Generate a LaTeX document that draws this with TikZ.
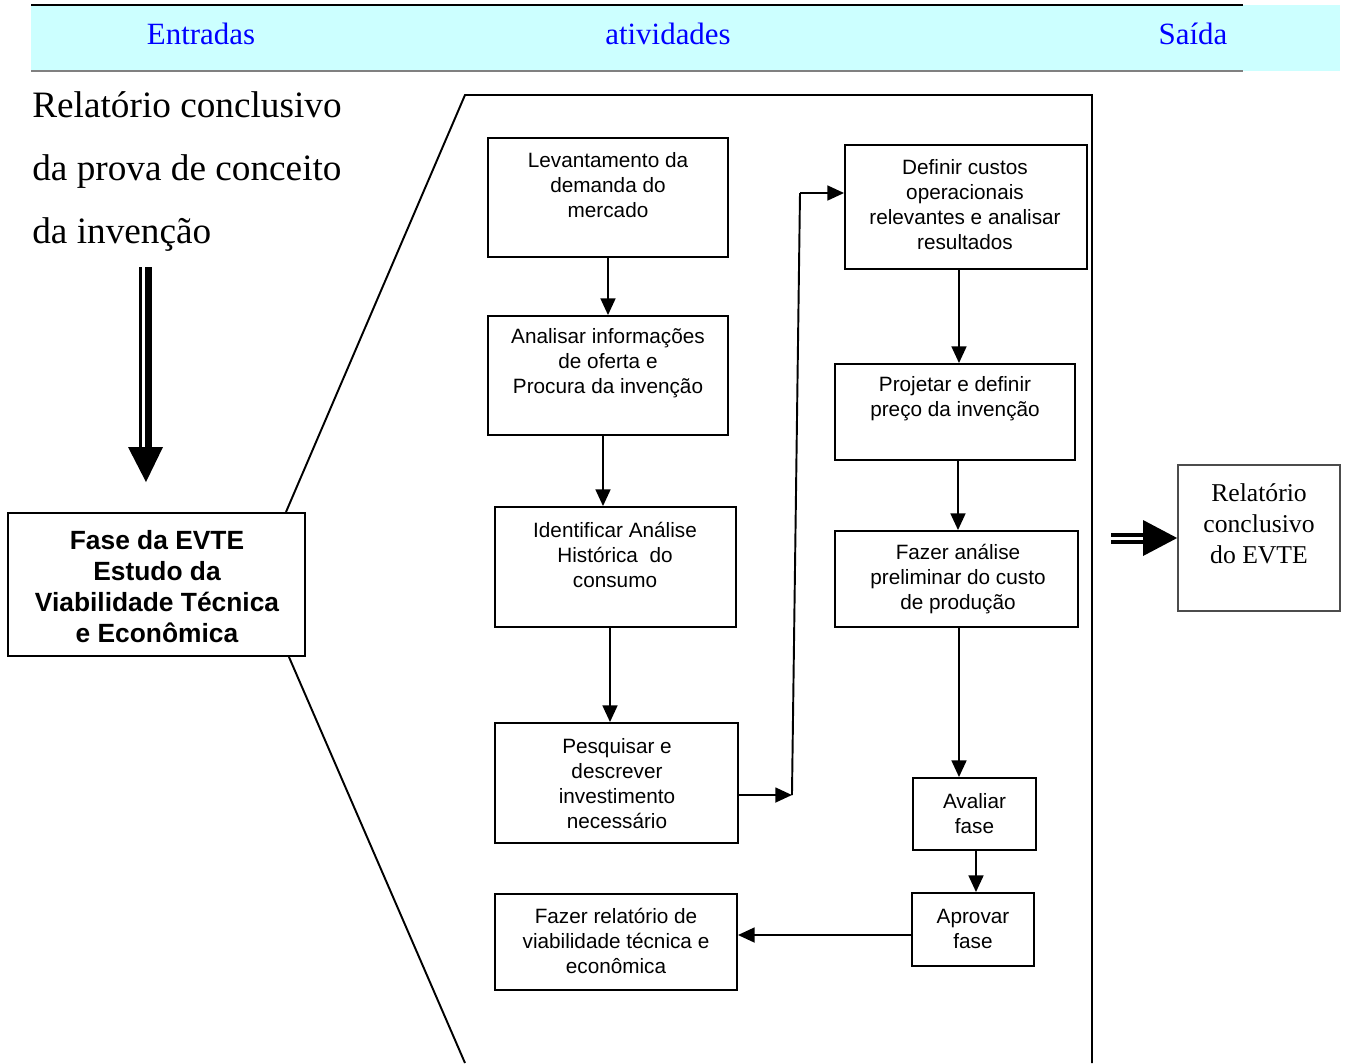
\documentclass[tikz,border=0pt]{standalone}
\usepackage{fontspec}
\setmainfont{Liberation Serif}
\setsansfont{Liberation Sans}
\usetikzlibrary{arrows.meta,calc,fit}
\definecolor{band}{HTML}{CCFFFF}
\begin{document}
\begin{tikzpicture}[x=0.02cm,y=-0.02cm,
  stepbox/.style={draw, line width=1.1pt, inner sep=0pt},
  steptext/.style={font=\sffamily\fontsize{11.8}{14.2}\selectfont, align=center, inner sep=0pt},
  flow/.style={line width=1.1pt},
  arr/.style={flow, -{Triangle[length=9.5pt,width=8.5pt]}},
  bracket/.style={line width=1.1pt},
  head/.style={font=\fontsize{17.6}{20}\selectfont, text=blue, inner sep=0pt},
]
\useasboundingbox (0,0) rectangle (1345,1063);

% header band with column titles
\fill[band] (31,5) rectangle (1340,71);
\draw[line width=1pt] (31,5) -- (1243,5);
\draw[line width=1pt, gray] (31,71) -- (1243,71);
\node[head] (hin)  at (201,34) {Entradas};
\node[head] (hact) at (668,34) {atividades};
\node[head] (hout) at (1193,34) {Saída};

% input text and the phase box
\node[anchor=north west, align=left, inner sep=0pt,
      font=\fontsize{21.2}{36}\selectfont] (input) at (32,91)
  {Relatório conclusivo\\da prova de conceito\\da invenção};
\node[stepbox, fit={(8,513) (305,656)}] (fase) {};
\node[font=\sffamily\bfseries\fontsize{15}{17.6}\selectfont, align=center, inner sep=0pt]
  (fase-t) at (157,586.5) {Fase da EVTE\\Estudo da\\Viabilidade Técnica\\e Econômica};

% double-line arrow from input to phase
\fill (139,267) rectangle (142,447);
\fill (145,267) rectangle (152,447);
\fill (128,447) -- (163,447) -- (146,482) -- cycle;

% activity boxes, left column
\node[stepbox, fit={(488,138) (728,257)}] (lev) {};
\node[steptext] (lev-t) at (608,185) {Levantamento da\\demanda do\\mercado};
\node[stepbox, fit={(488,316) (728,435)}] (an) {};
\node[steptext] (an-t) at (608,363) {Analisar informações\\de oferta e\\Procura da invenção};
\node[stepbox, fit={(495,507) (736,627)}] (id) {};
\node[steptext] (id-t) at (615,555) {Identificar Análise\\Histórica~ do\\consumo};
\node[stepbox, fit={(495,723) (738,843)}] (pes) {};
\node[steptext] (pes-t) at (617,783.5) {Pesquisar e\\descrever\\investimento\\necessário};
\node[stepbox, fit={(495,894) (737,990)}] (frel) {};
\node[steptext] (frel-t) at (616,941) {Fazer relatório de\\viabilidade técnica e\\econômica};

% activity boxes, right column
\node[stepbox, fit={(845,145) (1087,269)}] (def) {};
\node[steptext] (def-t) at (965,204.5) {Definir custos\\operacionais\\relevantes e analisar\\resultados};
\node[stepbox, fit={(835,364) (1075,460)}] (pro) {};
\node[steptext] (pro-t) at (955,398.5) {Projetar e definir\\preço da invenção};
\node[stepbox, fit={(835,531) (1078,627)}] (fa) {};
\node[steptext] (fa-t) at (958,579) {Fazer análise\\preliminar do custo\\de produção};
\node[stepbox, fit={(913,778) (1036,850)}] (av) {};
\node[steptext] (av-t) at (974.5,813.5) {Avaliar\\fase};
\node[stepbox, fit={(912,893) (1034,966)}] (apr) {};
\node[steptext] (apr-t) at (973,928.5) {Aprovar\\fase};

% output box
\node[draw=black!70, line width=1pt, inner sep=0pt, fit={(1178,465) (1340,611)}] (out) {};
\node[font=\fontsize{14.6}{17.6}\selectfont, align=center, inner sep=0pt]
  (out-t) at (1259,524) {Relatório\\conclusivo\\do EVTE};

% double-line arrow into the output box
\fill (1111,533) rectangle (1143,536.5);
\fill (1111,540) rectangle (1143,544);
\fill (1143,520) -- (1143,556) -- (out.west) -- cycle;

% zoom bracket around the activities
\coordinate (bt) at (465,95);
\coordinate (br) at (1092,95);
\coordinate (bb) at (1092,1063);
\coordinate (bl) at (465,1063);
\draw[bracket] ($(fase.north east)+(-20,0)$) -- (bt) -- (br) -- (bb);
\draw[bracket] ($(fase.south east)+(-17,0)$) -- (bl);

% flow connectors
\draw[arr] (lev.south) -- (lev.south |- an.north);
\draw[arr] ($(an.south)+(-5,0)$) coordinate (a23) -- (a23 |- id.north);
\draw[arr] ($(id.south)+(-5.5,0)$) coordinate (a34) -- (a34 |- pes.north);
\draw[arr] ($(pes.east)+(0,12)$) coordinate (a46) -- ++(53,0) coordinate (j1);
\coordinate (j2) at (800,193);
\draw[flow] (j1) -- (j2);
\draw[arr] (j2) -- (j2 -| def.west);
\draw[arr] ($(def.south)+(-7,0)$) coordinate (a67) -- (a67 |- pro.north);
\draw[arr] ($(pro.south)+(3,0)$) coordinate (a78) -- (a78 |- fa.north);
\draw[arr] ($(fa.south)+(2.5,0)$) coordinate (a89) -- (a89 |- av.north);
\draw[arr] ($(av.south)+(1.5,0)$) coordinate (a910) -- (a910 |- apr.north);
\draw[arr] ($(apr.west)+(0,5.5)$) coordinate (a105) -- (a105 -| frel.east);
\end{tikzpicture}
\end{document}
